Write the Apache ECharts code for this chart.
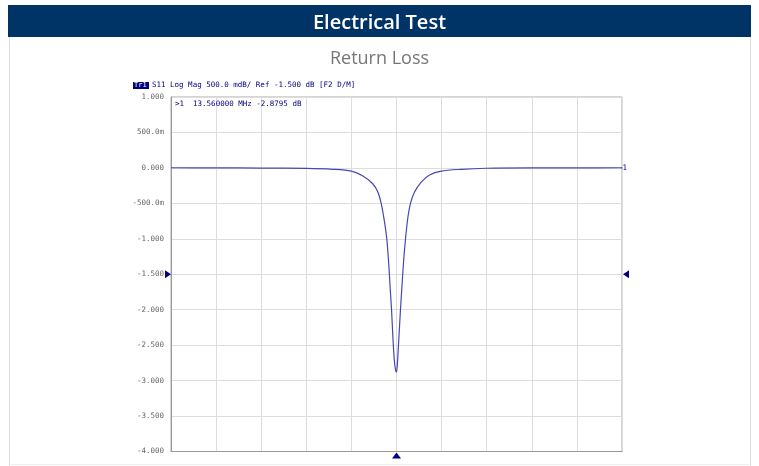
<!DOCTYPE html>
<html>
<head>
<meta charset="utf-8">
<script src="https://cdn.jsdelivr.net/npm/echarts@6/dist/echarts.min.js"></script>
<style>
  html, body { margin: 0; padding: 0; background: #fff; }
  #returnLoss { width: 759px; height: 466px; }
</style>
</head>
<body>
<div id="returnLoss"></div>
<script>
// Return Loss (S11 log mag) around 13.56 MHz

var centerMHz = 13.56;
// offset from center frequency, MHz
var offsetMHz = [-2.5, -2.0, -1.5, -1.0, -0.71, -0.5, -0.377, -0.266, -0.207, -0.17, -0.133, -0.1075, -0.085, -0.07, -0.055, -0.041, -0.0255, -0.011, 0,
    0.008, 0.022, 0.044, 0.059, 0.078, 0.1, 0.125, 0.155, 0.2, 0.274, 0.366, 0.496, 0.717, 0.994, 1.5, 2.0, 2.5];
var s11dB = [0.002, 0.0, -0.002, -0.008, -0.02, -0.045, -0.11, -0.22, -0.34, -0.5, -0.76, -1.0, -1.37, -1.7, -2.0, -2.36, -2.69, -2.85, -2.88,
    -2.8, -2.5, -2.0, -1.7, -1.33, -1.0, -0.71, -0.5, -0.34, -0.2, -0.1, -0.045, -0.02, -0.005, 0.0, 0.0, 0.002];
var yTicks = [-4, -3.5, -3, -2.5, -2, -1.5, -1, -0.5, 0, 0.5, 1];
var yTickLabels = ['-4.000', '-3.500', '-3.000', '-2.500', '-2.000', '-1.500', '-1.000', '-500.0m', '0.000', '500.0m', '1.000'];
var refLevel = -1.5;
var markerText = '>1  13.560000 MHz -2.8795 dB';
var traceText = 'S11 Log Mag 500.0 mdB/ Ref -1.500 dB [F2 D/M]';

var mono = 'DejaVu Sans Mono';
var navy = '#000080';

document.addEventListener('DOMContentLoaded', () => {
    var chart = echarts.init(document.querySelector('#returnLoss'));
    chart.setOption({
        backgroundColor: '#fff',
        animation: false,
        title: [
            {
                text: 'Electrical Test',
                left: 'center',
                top: 8,
                textStyle: { color: '#fff', fontFamily: 'Open Sans', fontWeight: 600, fontSize: 20 }
            },
            {
                text: 'Return Loss',
                left: 'center',
                top: 45,
                textStyle: { color: '#777', fontFamily: 'Open Sans', fontWeight: 'normal', fontSize: 18 }
            }
        ],
        graphic: [
            { type: 'rect', z: -1, shape: { x: 8, y: 5, width: 743, height: 32 }, style: { fill: '#003366' } },
            { type: 'line', shape: { x1: 9.5, y1: 37, x2: 9.5, y2: 466 }, style: { stroke: '#ddd', lineWidth: 1 } },
            { type: 'line', shape: { x1: 750.5, y1: 37, x2: 750.5, y2: 466 }, style: { stroke: '#ddd', lineWidth: 1 } },
            { type: 'line', shape: { x1: 9, y1: 464.5, x2: 751, y2: 464.5 }, style: { stroke: '#eee', lineWidth: 1 } },
            { type: 'rect', shape: { x: 133, y: 82, width: 16, height: 7 }, style: { fill: '#000080' } },
            { type: 'text', x: 134, y: 82, style: { text: 'Tr1', fill: '#fff', font: '7px ' + mono } },
            { type: 'text', x: 152, y: 81, style: { text: traceText, fill: navy, font: '7.5px ' + mono } },
            { type: 'text', x: 175, y: 100, z: 10, style: { text: markerText, fill: navy, font: '7.5px ' + mono } }
        ],
        grid: { show: true, borderColor: '#aaa', borderWidth: 1, left: 171, right: 137, top: 97, bottom: 14.5, containLabel: false },
        xAxis: {
            type: 'value',
            min: -2.5,
            max: 2.5,
            interval: 0.5,
            axisLabel: { show: false },
            axisTick: { show: false },
            axisLine: { show: true, onZero: false, lineStyle: { color: '#999' } },
            splitLine: { show: true, lineStyle: { color: '#ddd' } }
        },
        yAxis: {
            type: 'value',
            min: -4,
            max: 1,
            interval: 0.5,
            axisTick: { show: false },
            axisLine: { show: true, onZero: false, lineStyle: { color: '#999' } },
            splitLine: { show: true, lineStyle: { color: '#ddd' } },
            axisLabel: {
                color: '#666',
                fontFamily: mono,
                fontSize: 7.5,
                margin: 7,
                formatter: function (v) {
                    var i = yTicks.findIndex(t => Math.abs(t - v) < 1e-6);
                    return i >= 0 ? yTickLabels[i] : '';
                }
            }
        },
        series: [
            {
                name: 'S11',
                type: 'line',
                data: offsetMHz.map((x, i) => [x, s11dB[i]]),
                showSymbol: false,
                smooth: 0.3,
                lineStyle: { color: '#4646b4', width: 1.2 },
                markPoint: {
                    silent: true,
                    itemStyle: { color: navy },
                    label: { show: false },
                    data: [
                        { coord: [-2.5, refLevel], symbol: 'triangle', symbolRotate: -90, symbolSize: [8, 6], symbolOffset: [-3, 0] },
                        { coord: [2.5, refLevel], symbol: 'triangle', symbolRotate: 90, symbolSize: [8, 6], symbolOffset: [4, 0] },
                        { coord: [0, -4], symbol: 'triangle', symbolSize: [9, 6], symbolOffset: [0, 4] },
                        {
                            coord: [2.5, 0], symbol: 'circle', symbolSize: 1,
                            label: { show: true, position: 'right', distance: 0, formatter: '1', color: navy, fontFamily: mono, fontSize: 7.5 }
                        }
                    ]
                }
            }
        ]
    });
});
</script>
</body>
</html>
